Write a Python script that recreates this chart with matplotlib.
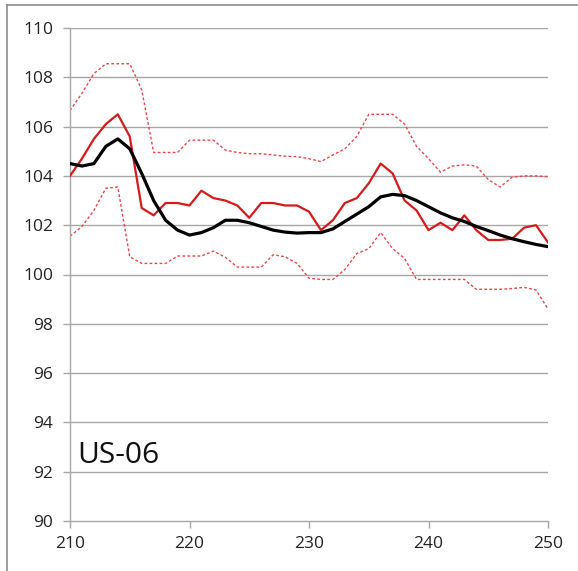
import matplotlib
matplotlib.use("Agg")
import matplotlib.pyplot as plt
from matplotlib.lines import Line2D

plt.rcParams["font.family"] = ["Open Sans", "DejaVu Sans"]

x_vals = list(range(210, 251))

measured = [
    104.0, 104.7, 105.5, 106.1, 106.5, 105.6, 102.7, 102.4, 102.9, 102.9,
    102.8, 103.4, 103.1, 103.0, 102.8, 102.3, 102.9, 102.9, 102.8, 102.8,
    102.55, 101.8, 102.2, 102.9, 103.1, 103.7, 104.5, 104.1, 103.0, 102.6,
    101.8, 102.1, 101.8, 102.4, 101.8, 101.4, 101.4, 101.45, 101.9, 102.0,
    101.3,
]

smoothed = [
    104.5, 104.4, 104.5, 105.2, 105.5, 105.1, 104.1, 103.0, 102.2, 101.8,
    101.6, 101.7, 101.9, 102.2, 102.2, 102.1, 101.95, 101.8, 101.72, 101.68,
    101.7, 101.7, 101.85, 102.15, 102.45, 102.75, 103.15, 103.25, 103.2, 103.0,
    102.75, 102.5, 102.3, 102.15, 101.95, 101.78, 101.6, 101.45, 101.33, 101.22,
    101.13,
]

upper = [
    106.65, 107.35, 108.15, 108.55, 108.55, 108.55, 107.5, 104.95, 104.95, 104.95,
    105.45, 105.45, 105.45, 105.05, 104.95, 104.9, 104.9, 104.85, 104.8, 104.78,
    104.7, 104.58, 104.85, 105.1, 105.6, 106.5, 106.5, 106.5, 106.1, 105.2,
    104.7, 104.15, 104.4, 104.45, 104.4, 103.85, 103.55, 103.95, 104.0, 104.0,
    103.97,
]

lower = [
    101.55, 101.95, 102.6, 103.5, 103.55, 100.72, 100.45, 100.45, 100.45, 100.75,
    100.75, 100.75, 100.95, 100.7, 100.3, 100.3, 100.3, 100.8, 100.72, 100.45,
    99.85, 99.8, 99.8, 100.2, 100.85, 101.05, 101.7, 101.05, 100.65, 99.8,
    99.8, 99.8, 99.8, 99.8, 99.4, 99.4, 99.4, 99.43, 99.48, 99.37,
    98.6,
]

x_ticks = [210, 220, 230, 240, 250]
y_ticks = list(range(90, 111, 2))

fig = plt.figure(figsize=(5.78, 5.71), dpi=100)
ax = fig.add_axes([70 / 578, 1 - 521 / 571, 478 / 578, 493 / 571])

grid_color = "#a6a6a6"
for y in y_ticks[1:]:
    ax.axhline(y, color=grid_color, linewidth=1.0, zorder=0)

ax.plot(x_vals, upper, color="#e8474a", linewidth=1.0, dashes=(2.0, 1.6), zorder=2)
ax.plot(x_vals, lower, color="#e8474a", linewidth=1.0, dashes=(2.0, 1.6), zorder=2)
ax.plot(x_vals, measured, color="#d41a1a", linewidth=1.6, zorder=3)
ax.plot(x_vals, smoothed, color="#000000", linewidth=2.3, zorder=4)

ax.set_xlim(210, 250)
ax.set_ylim(90, 110)
ax.set_xticks(x_ticks)
ax.set_yticks(y_ticks)
ax.tick_params(axis="both", color=grid_color, length=5, width=1.0,
               labelsize=12.5, labelcolor="#222222", direction="out")
ax.tick_params(axis="x", pad=6)
ax.tick_params(axis="y", pad=7)

for side in ["top", "right"]:
    ax.spines[side].set_visible(False)
for side in ["left", "bottom"]:
    ax.spines[side].set_color(grid_color)
    ax.spines[side].set_linewidth(1.0)

ax.text(210.6, 92.65, "US-06", fontsize=21.5, color="#111111", va="center", ha="left")

# outer frame (left and top only, as in the source)
fig.add_artist(Line2D([7 / 578, 7 / 578], [0, 1 - 5 / 571], transform=fig.transFigure,
                      color="#8c8c8c", linewidth=1.2))
fig.add_artist(Line2D([7 / 578, 1], [1 - 5 / 571, 1 - 5 / 571], transform=fig.transFigure,
                      color="#8c8c8c", linewidth=1.2))

fig.savefig("out.png", dpi=100)
